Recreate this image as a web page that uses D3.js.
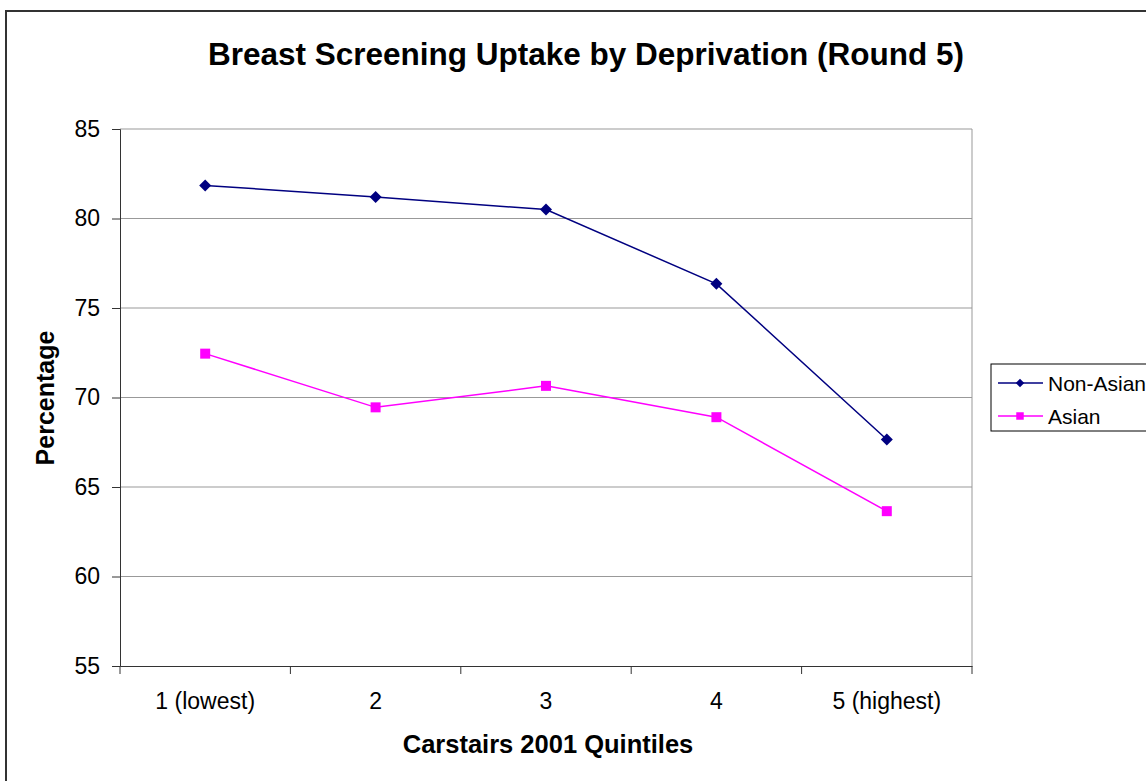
<!DOCTYPE html>
<html>
<head>
<meta charset="utf-8">
<script src="https://cdn.jsdelivr.net/npm/d3@7"></script>
<style>
  body { margin: 0; background: #fff; }
  svg { display: block; font-family: "Liberation Sans", Arial, sans-serif; }
</style>
</head>
<body>
<svg id="chart"></svg>
<script>
// data
const quintiles = ["1 (lowest)", "2", "3", "4", "5 (highest)"];
const nonAsian = [81.85, 81.2, 80.5, 76.35, 67.65];
const asian = [72.45, 69.45, 70.65, 68.9, 63.65];
const yTicks = [55, 60, 65, 70, 75, 80, 85];

const width = 1146, height = 781;
const svg = d3.select("#chart").attr("width", width).attr("height", height);

// outer chart frame (runs off right/bottom edge)
svg.append("rect")
  .attr("x", 6).attr("y", 11)
  .attr("width", width + 10).attr("height", height + 10)
  .attr("fill", "#fff")
  .attr("stroke", "#333").attr("stroke-width", 2);

const plot = { left: 120, right: 972, top: 129, bottom: 666 };

const x = d3.scaleBand().domain(quintiles).range([plot.left, plot.right]);
const y = d3.scaleLinear().domain([55, 85]).range([plot.bottom, plot.top]);

// excel-ish diamond (equal width / height)
const diamond = {
  draw(ctx, size) {
    const r = Math.sqrt(size / 2);
    ctx.moveTo(0, -r); ctx.lineTo(r, 0); ctx.lineTo(0, r); ctx.lineTo(-r, 0); ctx.closePath();
  }
};

// gridlines
svg.append("g")
  .selectAll("line")
  .data(yTicks.filter(d => d > 55))
  .join("line")
  .attr("x1", plot.left).attr("x2", plot.right)
  .attr("y1", d => y(d)).attr("y2", d => y(d))
  .attr("stroke", "#999").attr("stroke-width", 1);

// right border of plot area
svg.append("line")
  .attr("x1", plot.right).attr("x2", plot.right)
  .attr("y1", plot.top).attr("y2", plot.bottom)
  .attr("stroke", "#999").attr("stroke-width", 1);

// y axis
const yAxis = svg.append("g")
  .attr("transform", `translate(${plot.left},0)`)
  .call(d3.axisLeft(y).tickValues(yTicks).tickSize(8).tickPadding(12));
yAxis.select(".domain").attr("stroke", "#333");
yAxis.selectAll(".tick line").attr("stroke", "#333");
yAxis.selectAll("text").attr("font-size", 23).attr("fill", "#000")
  .attr("font-family", "Liberation Sans, Arial, sans-serif");

// x axis with ticks between categories
const xAxis = svg.append("g")
  .attr("transform", `translate(0,${plot.bottom})`)
  .call(d3.axisBottom(x).tickSize(0).tickPadding(27));
xAxis.select(".domain").attr("stroke", "#333");
xAxis.selectAll("text").attr("font-size", 23).attr("fill", "#000")
  .attr("font-family", "Liberation Sans, Arial, sans-serif");
xAxis.selectAll(".sep")
  .data(quintiles.concat(["end"]))
  .join("line")
  .attr("class", "sep")
  .attr("x1", (d, i) => plot.left + i * x.step())
  .attr("x2", (d, i) => plot.left + i * x.step())
  .attr("y1", 0).attr("y2", 8)
  .attr("stroke", "#333");

const cx = d => x(d) + x.bandwidth() / 2;
const line = d3.line().x((d, i) => cx(quintiles[i])).y(d => y(d));

const series = [
  { name: "Non-Asian", values: nonAsian, color: "#000080", shape: diamond, size: 72, lsize: 36 },
  { name: "Asian", values: asian, color: "#FF00FF", shape: d3.symbolSquare, size: 100, lsize: 56 }
];

series.forEach(s => {
  svg.append("path")
    .attr("d", line(s.values))
    .attr("fill", "none")
    .attr("stroke", s.color)
    .attr("stroke-width", 1.5);
  svg.append("g").selectAll("path")
    .data(s.values)
    .join("path")
    .attr("transform", (d, i) => `translate(${cx(quintiles[i])},${y(d)})`)
    .attr("d", d3.symbol().type(s.shape).size(s.size))
    .attr("fill", s.color);
});

// title
svg.append("text")
  .attr("x", 586).attr("y", 65)
  .attr("text-anchor", "middle")
  .attr("font-size", 31.5).attr("font-weight", "bold")
  .text("Breast Screening Uptake by Deprivation (Round 5)");

// axis titles
svg.append("text")
  .attr("x", 548).attr("y", 753)
  .attr("text-anchor", "middle")
  .attr("font-size", 25.5).attr("font-weight", "bold")
  .text("Carstairs 2001 Quintiles");

svg.append("text")
  .attr("transform", "translate(54,398) rotate(-90)")
  .attr("text-anchor", "middle")
  .attr("font-size", 25).attr("font-weight", "bold")
  .text("Percentage");

// legend
const legend = svg.append("g").attr("transform", "translate(991,364)");
legend.append("rect")
  .attr("width", 170).attr("height", 67)
  .attr("fill", "#fff").attr("stroke", "#000").attr("stroke-width", 1);
series.forEach((s, i) => {
  const ly = 19 + i * 33;
  legend.append("line")
    .attr("x1", 7).attr("x2", 52).attr("y1", ly).attr("y2", ly)
    .attr("stroke", s.color).attr("stroke-width", 1.5);
  legend.append("path")
    .attr("transform", `translate(29,${ly})`)
    .attr("d", d3.symbol().type(s.shape).size(s.lsize))
    .attr("fill", s.color);
  legend.append("text")
    .attr("x", 57).attr("y", ly + 7.5)
    .attr("font-size", 21)
    .text(s.name);
});
</script>
</body>
</html>
